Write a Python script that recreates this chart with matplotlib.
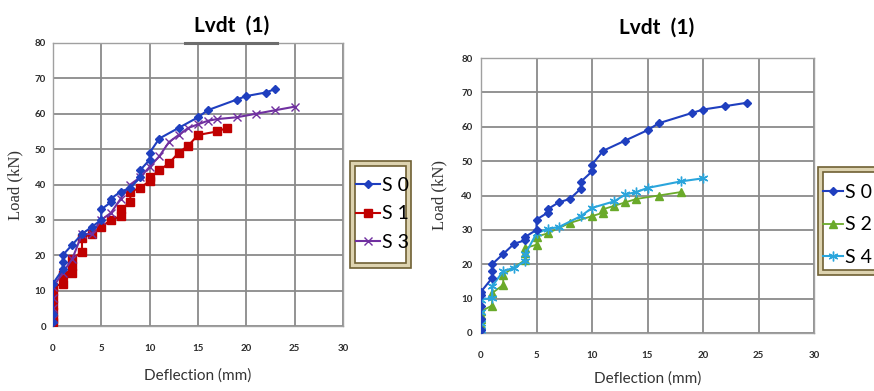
import matplotlib
matplotlib.use("Agg")
import matplotlib.pyplot as plt
from matplotlib.patches import Rectangle
from matplotlib.lines import Line2D

W, H = 874, 391

# left panel: S0, S1, S3
s0_left_x = [0, 0, 0, 1, 1, 1, 2, 3, 4, 5, 5, 6, 6, 7, 8, 9, 9, 10, 10, 11, 13, 15, 16, 19, 20, 22, 23]
s0_left_y = [1, 3.5, 12, 16, 18, 20, 23, 26, 28, 30, 33, 35, 36, 38, 39, 42, 44, 47, 49, 53, 56, 59, 61, 64, 65, 66, 67]
s1_x = [0, 0, 0, 0, 0, 0, 0, 1, 1, 2, 2, 2, 3, 3, 4, 5, 6, 7, 7, 8, 8, 9, 10, 10, 11, 12, 13, 14, 15, 17, 18]
s1_y = [1, 2, 4, 6, 8, 10, 11, 12, 14.5, 15, 17, 19, 21, 25, 26, 28, 30, 31, 33, 35, 38, 39, 41, 42, 44, 46, 49, 51, 54, 55, 56]
s3_x = [0, 0, 0, 0, 1, 2, 3, 4, 5, 6, 7, 8, 9, 10, 11, 12, 13, 14, 15, 16, 17, 19, 21, 23, 25]
s3_y = [2, 5, 8, 11, 15, 19, 26, 26, 30, 32, 36, 40, 42, 45, 48, 52, 54, 56, 57, 58, 58.5, 59, 60, 61, 62]

# right panel: S0, S2, S4
s0_right_x = [0, 0, 0, 0, 0, 1, 1, 1, 2, 3, 4, 4, 5, 5, 6, 6, 7, 8, 9, 9, 10, 10, 11, 13, 15, 16, 19, 20, 22, 24]
s0_right_y = [1, 4, 8, 11, 12, 16, 18, 20, 23, 26, 27, 28, 30, 33, 35, 36, 38, 39, 42, 44, 47, 49, 53, 56, 59, 61, 64, 65, 66, 67]
s2_x = [0, 0, 0, 0, 1, 1, 2, 2, 4, 4, 4, 5, 5, 6, 8, 10, 11, 11, 12, 13, 14, 16, 18]
s2_y = [2.4, 4, 5.3, 6.3, 8, 11.6, 14, 17, 21.3, 23.3, 24.7, 25.7, 28, 29, 32, 34, 35, 36, 37, 38, 39, 40, 41]
s4_x = [0, 0, 0, 0, 1, 1, 2, 3, 4, 4, 5, 6, 7, 9, 10, 12, 13, 14, 15, 18, 20]
s4_y = [1, 3, 6, 9.7, 10.2, 13.6, 18, 19, 21, 23, 29, 30.3, 30.8, 34, 36.4, 38.3, 40.3, 41, 42.2, 44.1, 45]

x_ticks = [0, 5, 10, 15, 20, 25, 30]
y_ticks = [0, 10, 20, 30, 40, 50, 60, 70, 80]

BLUE, RED, PURPLE = "#1f3fbf", "#c00000", "#7030a0"
GREEN, CYAN = "#6aaa2a", "#2aa5dc"
ASTER = (6, 2, 0)
BORDER = "#6f6034"

fig = plt.figure(figsize=(W / 100, H / 100), dpi=100)
fig.patch.set_facecolor("white")


def px_axes(x0, y0, x1, y1):
    return fig.add_axes([x0 / W, 1 - y1 / H, (x1 - x0) / W, (y1 - y0) / H])


def style(ax, xpad, ypad):
    ax.set_xlim(0, 30)
    ax.set_ylim(0, 80)
    ax.set_xticks(x_ticks)
    ax.set_yticks(y_ticks)
    ax.grid(True, color="#8a8a8a", lw=1.3)
    ax.set_axisbelow(True)
    for s in ax.spines.values():
        s.set_color("#a0a0a0")
        s.set_linewidth(1.0)
    ax.tick_params(length=0, labelsize=7, labelcolor="#2b2b2b")
    ax.tick_params(axis="x", pad=xpad)
    ax.tick_params(axis="y", pad=ypad)
    for lab in ax.get_xticklabels() + ax.get_yticklabels():
        lab.set_fontweight("bold")
        lab.set_family("Lato")


def legend_box(x0, y0, x1, y1):
    # double olive frame: outer beige band, inner white panel
    fig.patches.append(Rectangle((x0 / W, 1 - y1 / H), (x1 - x0) / W, (y1 - y0) / H,
                                 transform=fig.transFigure, facecolor="#ddd3b0",
                                 edgecolor=BORDER, lw=1.2, zorder=1))
    fig.patches.append(Rectangle(((x0 + 5) / W, 1 - (y1 - 5) / H), (x1 - x0 - 10) / W,
                                 (y1 - y0 - 10) / H, transform=fig.transFigure,
                                 facecolor="white", edgecolor=BORDER, lw=1.2, zorder=1))


def add_legend(ax, cx, cy, spacing, hlen):
    h, l = ax.get_legend_handles_labels()
    leg = fig.legend(h, l, loc="center left", bbox_to_anchor=(cx / W, 1 - cy / H),
                     bbox_transform=fig.transFigure, frameon=False,
                     prop={"family": "Lato", "size": 14}, handlelength=hlen,
                     handletextpad=0.08, labelspacing=spacing, borderpad=0, borderaxespad=0)
    leg.set_zorder(5)


# ---- left panel ----
axl = px_axes(53, 43, 343, 326)
axl.plot(s0_left_x, s0_left_y, color=BLUE, lw=1.5, marker="D", ms=4.5, label="S 0", zorder=4)
axl.plot(s1_x, s1_y, color=RED, lw=1.5, marker="s", ms=5.5, label="S 1", zorder=3)
axl.plot(s3_x, s3_y, color=PURPLE, lw=1.5, marker="x", ms=6, mew=1, label="S 3", zorder=3)
style(axl, 13, 5)
axl.set_xlabel("Deflection (mm)", family="Lato", fontsize=11, color="#333333", labelpad=11)
axl.set_ylabel("Load (kN)", family="Liberation Serif", fontsize=12, color="#333333", labelpad=8)

fig.text(232 / W, 1 - 26 / H, "Lvdt  (1)", family="Lato", fontweight="bold",
         fontsize=15, ha="center", va="center")
fig.lines.append(Line2D([185 / W, 277 / W], [1 - 43 / H, 1 - 43 / H],
                        transform=fig.transFigure, color="#6d6d6d", lw=2.2))

legend_box(350, 161, 411, 268)
add_legend(axl, 356, 214, 0.6, 1.25)

# ---- right panel ----
axr = px_axes(481, 58, 814, 333)
axr.plot(s0_right_x, s0_right_y, color=BLUE, lw=1.5, marker="D", ms=4.5, label="S 0", zorder=4)
axr.plot(s2_x, s2_y, color=GREEN, lw=1.3, marker="^", ms=6, label="S 2", zorder=3)
axr.plot(s4_x, s4_y, color=CYAN, lw=1.5, marker=ASTER, ms=7, mew=1, label="S 4", zorder=3)
style(axr, 13, 6)
axr.set_xlabel("Deflection (mm)", family="Lato", fontsize=11, color="#333333", labelpad=8)
axr.set_ylabel("Load (kN)", family="Liberation Serif", fontsize=12, color="#333333", labelpad=10)

fig.text(657 / W, 1 - 28 / H, "Lvdt  (1)", family="Lato", fontweight="bold",
         fontsize=15, ha="center", va="center")

legend_box(818, 167, 900, 275)
add_legend(axr, 823, 225, 0.8, 1.05)

fig.savefig("out.png", dpi=100)
